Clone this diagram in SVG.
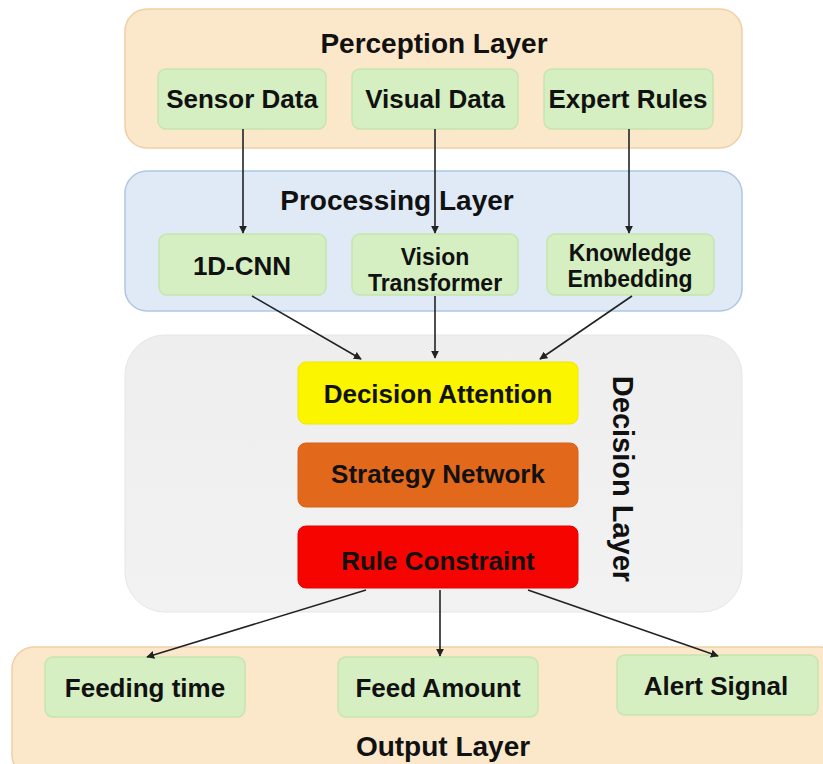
<svg xmlns="http://www.w3.org/2000/svg" width="823" height="764" viewBox="0 0 823 764">
<style>
text{font-family:"Liberation Sans",Arial,sans-serif;font-weight:bold;fill:#111;text-anchor:middle;dominant-baseline:central}
.title{font-size:28px}
.lbl{font-size:26px}
.lbl2{font-size:23px}
.green{fill:#d5efc2;stroke:#c6e5ae;stroke-width:1.5}
.conn{stroke:#222;stroke-width:1.6;fill:none;marker-end:url(#ah)}
</style>
<defs>
<marker id="ah" viewBox="0 0 10 10" refX="9" refY="5" markerWidth="8" markerHeight="8" markerUnits="userSpaceOnUse" orient="auto"><path d="M0,0 L10,5 L0,10 z" fill="#222"/></marker>
<linearGradient id="gGrey" x1="0" y1="0" x2="0" y2="1"><stop offset="0" stop-color="#eeeeee"/><stop offset="1" stop-color="#f2f2f2"/></linearGradient>
</defs>
<rect width="823" height="764" fill="#ffffff"/>

<g id="perception-layer">
<rect x="125" y="9" width="617" height="139" rx="22" fill="#fbe8cb" stroke="#efcfa6" stroke-width="1.5"/>
<text class="title" x="434" y="43">Perception Layer</text>
</g>
<g id="sensor-data"><rect class="green" x="158" y="69" width="168" height="60" rx="8"/><text class="lbl" x="242" y="99">Sensor Data</text></g>
<g id="visual-data"><rect class="green" x="352" y="69" width="166" height="60" rx="8"/><text class="lbl" x="435" y="99">Visual Data</text></g>
<g id="expert-rules"><rect class="green" x="544" y="69" width="169" height="60" rx="8"/><text class="lbl" x="628" y="99">Expert Rules</text></g>

<g id="processing-layer">
<rect x="125" y="171" width="617" height="140" rx="22" fill="#dfeaf6" stroke="#aec8e3" stroke-width="1.5"/>
<text class="title" x="397" y="200">Processing Layer</text>
</g>
<g id="cnn"><rect class="green" x="159" y="234" width="167" height="61" rx="8"/><text class="lbl" x="242" y="266">1D-CNN</text></g>
<g id="vit"><rect class="green" x="352" y="234" width="166" height="61" rx="8"/><text class="lbl2" x="435" y="257">Vision</text><text class="lbl2" x="435" y="283">Transformer</text></g>
<g id="knowledge"><rect class="green" x="547" y="234" width="167" height="61" rx="8"/><text class="lbl2" x="630" y="253">Knowledge</text><text class="lbl2" x="630" y="279">Embedding</text></g>

<g id="decision-layer">
<rect x="125" y="335" width="617" height="277" rx="40" fill="url(#gGrey)" stroke="#e6e6e6" stroke-width="1"/>
<text class="title" transform="translate(623,479) rotate(90)" x="0" y="0" style="font-size:29px">Decision Layer</text>
</g>
<g id="decision-attention"><rect x="298" y="362" width="280" height="62" rx="8" fill="#fbf500" stroke="#f2e600"/><text class="lbl" x="438" y="394">Decision Attention</text></g>
<g id="strategy-network"><rect x="298" y="443" width="280" height="64" rx="8" fill="#e2691c" stroke="#d86218"/><text class="lbl" x="438" y="474">Strategy Network</text></g>
<g id="rule-constraint"><rect x="298" y="526" width="280" height="62" rx="8" fill="#f50400" stroke="#e80000"/><text class="lbl" x="438" y="561">Rule Constraint</text></g>

<g id="output-layer">
<rect x="12" y="647" width="830" height="130" rx="22" fill="#fbe8cb" stroke="#efcfa6" stroke-width="1.5"/>
<text class="title" x="443" y="746">Output Layer</text>
</g>
<g id="feeding-time"><rect class="green" x="45" y="657" width="200" height="60" rx="8"/><text class="lbl" x="145" y="688">Feeding time</text></g>
<g id="feed-amount"><rect class="green" x="338" y="657" width="200" height="60" rx="8"/><text class="lbl" x="438" y="688">Feed Amount</text></g>
<g id="alert-signal"><rect class="green" x="617" y="655" width="201" height="60" rx="8"/><text class="lbl" x="716" y="686">Alert Signal</text></g>

<g id="connectors">
<line class="conn" x1="243" y1="129" x2="243" y2="233"/>
<line class="conn" x1="435" y1="129" x2="435" y2="233"/>
<line class="conn" x1="629" y1="129" x2="629" y2="233"/>
<line class="conn" x1="252" y1="296" x2="361" y2="359"/>
<line class="conn" x1="435" y1="296" x2="435" y2="358"/>
<line class="conn" x1="632" y1="296" x2="540" y2="359"/>
<line class="conn" x1="366" y1="590" x2="147" y2="657"/>
<line class="conn" x1="440" y1="590" x2="440" y2="656"/>
<line class="conn" x1="528" y1="590" x2="718" y2="656"/>
</g>
</svg>
